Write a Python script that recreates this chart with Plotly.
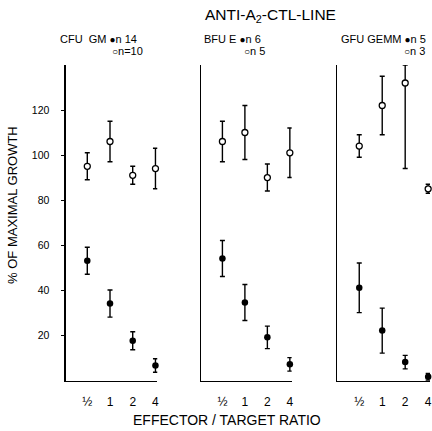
import plotly.graph_objects as go

ratios = ["½", "1", "2", "4"]
xpos = [0, 1, 2, 3]

panels = ["CFU  GM", "BFU E", "GFU GEMM"]
n_filled = ["14", "6", "5"]
n_open = ["=10", " 5", " 3"]

# open circles (control)
open_vals = [[95, 106, 91, 94], [106, 110, 90, 101], [104, 122, 132, 85]]
open_err_up = [[6, 9, 4, 9], [9, 12, 6, 11], [5, 13, 8, 2]]
open_err_dn = [[6, 9, 4, 9], [9, 12, 6, 11], [5, 13, 38, 2]]
# filled circles
filled_vals = [[53, 34, 17.5, 6.5], [54, 34.5, 19, 7], [41, 22, 8, 1.5]]
filled_err = [[6, 6, 4, 3], [8, 8, 5, 3], [11, 10, 3, 1.5]]

yticks = [20, 40, 60, 80, 100, 120]

W, H = 432, 431
font = "Liberation Sans, Arial, sans-serif"

fig = go.Figure()

px_dom = [(66, 158), (202, 293), (339, 432)]
ytop, ybot = 65, 381
ydom = [1 - ybot / H, 1 - ytop / H]

for i in range(3):
    xa = "x" if i == 0 else f"x{i+1}"
    ya = "y" if i == 0 else f"y{i+1}"
    fig.add_trace(go.Scatter(
        x=xpos, y=open_vals[i], xaxis=xa, yaxis=ya, mode="markers",
        marker=dict(symbol="circle", size=6, color="white",
                    line=dict(color="black", width=1.3)),
        error_y=dict(type="data", symmetric=False, array=open_err_up[i],
                     arrayminus=open_err_dn[i], color="black",
                     thickness=1.4, width=2.5),
        showlegend=False, cliponaxis=False, hoverinfo="skip"))
    fig.add_trace(go.Scatter(
        x=xpos, y=filled_vals[i], xaxis=xa, yaxis=ya, mode="markers",
        marker=dict(symbol="circle", size=6.5, color="black"),
        error_y=dict(type="data", array=filled_err[i], color="black",
                     thickness=1.4, width=2.5),
        showlegend=False, cliponaxis=False, hoverinfo="skip"))
    x0, x1 = px_dom[i]
    xkey = "xaxis" if i == 0 else f"xaxis{i+1}"
    ykey = "yaxis" if i == 0 else f"yaxis{i+1}"
    fig.layout[xkey] = dict(
        domain=[x0 / W, min(x1 / W, 1)], range=[-0.95, 3.08],
        tickvals=xpos, ticktext=ratios, showline=True, linecolor="black",
        linewidth=1.2, showgrid=False, zeroline=False, ticks="",
        ticklabeloverflow="allow",
        ticklabelstandoff=9, tickfont=dict(size=12, color="black", family=font),
        anchor=ya)
    fig.layout[ykey] = dict(
        domain=ydom, range=[-0.4, 140], showline=True, linecolor="black",
        linewidth=1.2, showgrid=False, zeroline=False, anchor=xa,
        tickvals=yticks if i == 0 else [], showticklabels=(i == 0),
        ticks="outside" if i == 0 else "", ticklen=3, tickcolor="black",
        ticklabelstandoff=10, tickfont=dict(size=10.5, color="black", family=font))

dot = "<span style='font-size:10px'>{}</span>"
annotations = [
    dict(text="ANTI-A<sub>2</sub>-CTL-LINE", x=272 / W, y=1 - 15 / H,
         font=dict(size=15.5, color="black", family=font)),
    dict(text="EFFECTOR / TARGET RATIO", x=228 / W, y=1 - 420 / H,
         font=dict(size=14, color="black", family=font)),
    dict(text="% OF MAXIMAL GROWTH", x=12 / W, y=1 - 205 / H, textangle=-90,
         font=dict(size=13, color="black", family=font)),
]
hdr_right = [146, 268, 429]
hdr_left = [58, 203, 341]
for i in range(3):
    annotations.append(dict(
        text=f"{panels[i]} {dot.format('●')}n {n_filled[i]}", x=hdr_left[i] / W, y=1 - 39 / H,
        xanchor="left", font=dict(size=11, color="black", family=font)))
    annotations.append(dict(
        text=f"{dot.format('○')}n{n_open[i]}", x=hdr_right[i] / W, y=1 - 51 / H,
        xanchor="right", font=dict(size=11, color="black", family=font)))
for a in annotations:
    a.setdefault("xanchor", "center")
    a.update(xref="paper", yref="paper", yanchor="middle", showarrow=False)
fig.update_layout(annotations=annotations, width=W, height=H,
                  margin=dict(l=0, r=0, t=0, b=0), hovermode=False,
                  paper_bgcolor="white", plot_bgcolor="white")

fig.write_html("out.html", config={"displayModeBar": False, "staticPlot": True},
               post_script="document.body.style.margin='0';document.body.style.overflow='hidden';")
